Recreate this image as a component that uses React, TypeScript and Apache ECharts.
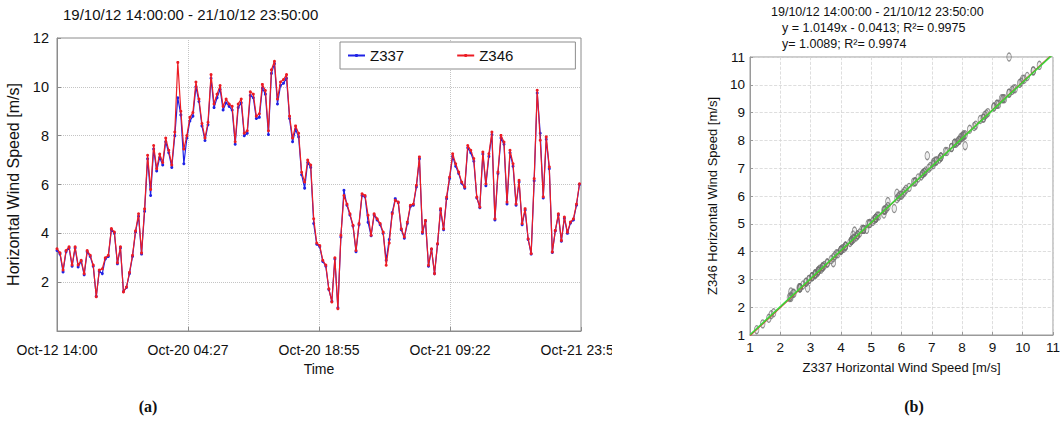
import React, { useEffect, useRef } from "react";
import * as echarts from "echarts";

const FONT = "'Liberation Sans', Arial, Helvetica, sans-serif";
const SERIF = "'Liberation Serif', 'DejaVu Serif', serif";

const periodTitle = "19/10/12 14:00:00 - 21/10/12 23:50:00";
const timeTickLabels = ["Oct-12 14:00", "Oct-20 04:27", "Oct-20 18:55", "Oct-21 09:22", "Oct-21 23:50"];
const seriesNames = ["Z337", "Z346"];

// sampling: one value every 20 minutes over the 57 h 50 min window
const sampleStepMin = 20;
const spanMin = 3470;

// horizontal wind speed [m/s] at Z346
const z346 = [
  3.37, 3.2, 2.5, 3.3, 3.45, 2.7, 3.45, 2.7, 2.9, 2.35,
  3.3, 3.1, 2.7, 1.4, 2.5, 2.55, 3.0, 3.1, 4.2, 4.05,
  2.8, 3.45, 1.6, 1.8, 2.4, 3.1, 4.1, 4.8, 3.2, 5.0,
  7.2, 5.8, 7.6, 6.65, 7.25, 6.9, 7.9, 7.4, 6.8, 8.15,
  11.0, 9.0, 7.45, 8.0, 8.75, 8.95, 10.2, 9.5, 8.5, 7.9,
  8.55, 10.5, 9.3, 9.7, 10.05, 9.2, 9.5, 9.3, 9.2, 7.75,
  9.3, 9.5, 8.1, 8.2, 9.8, 9.7, 8.8, 8.9, 10.1, 9.85,
  8.2, 10.7, 11.05, 9.5, 10.2, 10.3, 10.5, 8.8, 7.9, 8.4,
  8.1, 6.5, 6.1, 7.0, 6.8, 4.6, 3.6, 3.5,
  2.9, 2.7, 1.73, 1.19, 3.0, 0.91, 3.92, 5.55, 5.2, 4.8, 4.33, 3.3,
  4.4, 5.62, 5.55, 4.74, 3.92, 4.8, 4.6, 4.4, 4.05, 2.69,
  3.6, 4.8, 5.35, 5.28, 4.19, 3.85, 4.46, 5.15, 5.2, 5.97,
  7.13, 4.05, 4.53, 2.69, 3.37, 2.35, 3.58, 5.01, 4.19, 5.49,
  6.31, 7.26, 6.85, 6.51, 6.1, 5.9, 7.6, 7.4, 7.06, 5.49,
  5.08, 7.33, 6.03, 7.26, 8.15, 4.6, 6.51, 8.01, 7.74, 5.28,
  7.4, 6.85, 5.2, 6.17, 4.4, 5.01, 3.78, 3.17, 6.24, 9.86,
  7.81, 5.5, 7.95, 6.72, 3.24, 4.12, 4.8,
  3.71, 4.67, 4.05, 4.46, 4.6, 5.2, 6.03,
];

// horizontal wind speed [m/s] at Z337
const z337 = [
  3.3, 3.15, 2.42, 3.25, 3.4, 2.65, 3.4, 2.62, 2.85, 2.3,
  3.25, 3.05, 2.65, 1.42, 2.45, 2.35, 2.95, 3.05, 4.15, 4.0,
  2.75, 3.4, 1.62, 1.78, 2.35, 3.05, 4.05, 4.7, 3.15, 4.9,
  7.05, 5.55, 7.45, 6.55, 7.1, 6.8, 7.75, 7.3, 6.7, 8.0,
  9.55, 8.85, 6.85, 7.9, 8.6, 8.8, 10.0, 9.4, 8.4, 7.8,
  8.45, 10.35, 9.15, 9.55, 9.9, 9.05, 9.35, 9.2, 9.05, 7.65,
  9.15, 9.35, 8.0, 8.1, 9.65, 9.55, 8.7, 8.75, 9.95, 9.7,
  8.05, 10.55, 10.95, 9.3, 10.05, 10.15, 10.35, 8.7, 7.75, 8.25,
  7.95, 6.4, 5.85, 6.9, 6.7, 4.4, 3.55, 3.45,
  2.85, 2.65, 1.7, 1.22, 2.95, 0.95, 3.85, 5.76, 5.15, 4.75, 4.3, 3.25,
  4.35, 5.55, 5.5, 4.45, 3.9, 4.75, 4.55, 4.35, 4.0, 2.9,
  3.75, 4.85, 5.42, 5.25, 4.15, 3.8, 4.4, 5.1, 5.15, 5.9,
  7.05, 4.0, 4.5, 2.65, 3.35, 2.35, 3.55, 4.95, 4.15, 5.42,
  6.25, 7.15, 6.75, 6.45, 6.05, 5.85, 7.5, 7.3, 6.95, 5.45,
  5.05, 7.25, 5.95, 7.15, 8.05, 4.55, 6.45, 7.9, 7.65, 5.2,
  7.3, 6.75, 5.15, 6.1, 4.35, 4.95, 3.75, 3.15, 6.15, 9.75,
  8.1, 5.45, 7.85, 6.65, 3.22, 4.1, 4.75,
  3.68, 4.62, 4.0, 4.42, 4.55, 5.15, 6.0,
];

// regression of Z346 on Z337
const fitLinear = { slope: 1.0149, intercept: -0.0413, r2: 0.9975 };
const fitOrigin = { slope: 1.0089, r2: 0.9974 };
const scatterRange = [1, 11];

const BLUE = "#1f22e6";
const RED = "#ec1c24";
const AXIS_GREY = "#8c8c8c";
const TEXT = "#111111";

function timeSeriesOption(): echarts.EChartsOption {
  const toPoints = (vals: number[]) => vals.map((v, i) => [i * sampleStepMin, v]);
  const tickStep = spanMin / 4;
  return {
    animation: false,
    backgroundColor: "#ffffff",
    textStyle: { fontFamily: FONT },
    title: {
      text: periodTitle,
      left: 63,
      top: 7,
      padding: 0,
      textStyle: { fontSize: 15, fontWeight: "normal", color: TEXT, fontFamily: FONT },
    },
    legend: {
      data: seriesNames,
      left: 340,
      top: 42,
      padding: [6, 62, 6, 7],
      itemGap: 52,
      itemWidth: 17,
      itemHeight: 4,
      borderColor: AXIS_GREY,
      borderWidth: 1,
      backgroundColor: "#ffffff",
      textStyle: { fontSize: 15, color: TEXT, fontFamily: FONT },
    },
    grid: {
      left: 57,
      top: 38,
      width: 524,
      height: 293,
      show: true,
      borderColor: AXIS_GREY,
      borderWidth: 1,
      backgroundColor: "#ffffff",
      outerBoundsMode: "none",
    } as any,
    xAxis: {
      type: "value",
      min: 0,
      max: spanMin,
      interval: tickStep,
      name: "Time",
      nameLocation: "middle",
      nameGap: 30,
      nameTextStyle: { fontSize: 14, color: TEXT, fontFamily: FONT },
      axisLine: { show: true, lineStyle: { color: AXIS_GREY } },
      axisTick: { show: true, inside: true, length: 4, lineStyle: { color: AXIS_GREY } },
      axisLabel: {
        fontSize: 14,
        color: TEXT,
        margin: 12,
        fontFamily: FONT,
        hideOverlap: false,
        formatter: (v: number) => timeTickLabels[Math.round(v / tickStep)] ?? "",
      },
      splitLine: { show: true, lineStyle: { type: "dotted", color: "#c4c4c4" } },
    },
    yAxis: {
      type: "value",
      min: 0,
      max: 12,
      interval: 2,
      name: "Horizontal Wind Speed [m/s]",
      nameLocation: "middle",
      nameGap: 32,
      nameTextStyle: { fontSize: 16, color: TEXT, fontFamily: FONT },
      axisLine: { show: true, lineStyle: { color: AXIS_GREY } },
      axisTick: { show: true, inside: true, length: 4, lineStyle: { color: AXIS_GREY } },
      axisLabel: { showMinLabel: false, fontSize: 14.5, color: TEXT, margin: 8, fontFamily: FONT },
      splitLine: { show: true, lineStyle: { type: "dotted", color: "#c4c4c4" } },
    },
    graphic: [
      {
        type: "text",
        x: 148,
        y: 406,
        style: {
          text: "(a)",
          font: `bold 16px ${SERIF}`,
          fill: TEXT,
          textAlign: "center",
          textVerticalAlign: "middle",
        },
      },
    ],
    series: [
      {
        name: seriesNames[0],
        type: "line",
        data: toPoints(z337),
        symbol: "circle",
        symbolSize: 3,
        showSymbol: true,
        lineStyle: { color: BLUE, width: 1.2 },
        itemStyle: { color: BLUE },
        z: 2,
      },
      {
        name: seriesNames[1],
        type: "line",
        data: toPoints(z346),
        symbol: "circle",
        symbolSize: 3,
        showSymbol: true,
        lineStyle: { color: RED, width: 1.2 },
        itemStyle: { color: RED },
        z: 3,
      },
    ],
  };
}

function scatterOption(): echarts.EChartsOption {
  const [lo, hi] = scatterRange;
  const pairs = z337.map((x, i) => [x, z346[i]]);
  const linearLine = [lo, hi].map((x) => [x, fitLinear.slope * x + fitLinear.intercept]);
  const originLine = [lo, hi].map((x) => [x, fitOrigin.slope * x]);
  const axisCommon = {
    type: "value" as const,
    min: lo,
    max: hi,
    interval: 1,
    nameLocation: "middle" as const,
    nameTextStyle: { fontSize: 13, color: TEXT, fontFamily: FONT },
    axisLine: { show: true, lineStyle: { color: "#9a9a9a" } },
    axisTick: { show: true, inside: true, length: 3, lineStyle: { color: "#9a9a9a" } },
    splitLine: { show: true, lineStyle: { type: "dashed" as const, color: "#d6d6d6", width: 0.8 } },
  };
  const titleFont = `12.5px ${FONT}`;
  return {
    animation: false,
    backgroundColor: "#ffffff",
    textStyle: { fontFamily: FONT },
    graphic: [
      {
        type: "text",
        x: 159,
        y: 12,
        style: { text: periodTitle, font: titleFont, fill: TEXT, textAlign: "left", textVerticalAlign: "middle" },
      },
      {
        type: "text",
        x: 170,
        y: 28,
        style: {
          text: `y = ${fitLinear.slope.toFixed(4)}x - ${Math.abs(fitLinear.intercept).toFixed(4)}; R²= ${fitLinear.r2.toFixed(4)}`,
          font: titleFont,
          fill: TEXT,
          textAlign: "left",
          textVerticalAlign: "middle",
        },
      },
      {
        type: "text",
        x: 170,
        y: 44,
        style: {
          text: `y= ${fitOrigin.slope.toFixed(4)}; R²= ${fitOrigin.r2.toFixed(4)}`,
          font: titleFont,
          fill: TEXT,
          textAlign: "left",
          textVerticalAlign: "middle",
        },
      },
      {
        type: "text",
        x: 302,
        y: 406,
        style: {
          text: "(b)",
          font: `bold 16px ${SERIF}`,
          fill: TEXT,
          textAlign: "center",
          textVerticalAlign: "middle",
        },
      },
    ],
    grid: {
      left: 138,
      top: 57,
      width: 303,
      height: 278,
      show: true,
      borderColor: "#9a9a9a",
      borderWidth: 1,
      backgroundColor: "#ffffff",
      outerBoundsMode: "none",
    } as any,
    xAxis: {
      ...axisCommon,
      name: "Z337 Horizontal Wind Speed [m/s]",
      nameGap: 26,
      axisLabel: { fontSize: 13.5, color: TEXT, margin: 5, fontFamily: FONT },
    },
    yAxis: {
      ...axisCommon,
      name: "Z346 Horizontal Wind Speed [m/s]",
      nameGap: 13,
      axisLabel: { fontSize: 13.5, color: TEXT, margin: 5, fontFamily: FONT },
    },
    series: [
      {
        type: "scatter",
        data: pairs,
        symbol: "circle",
        symbolSize: [4.5, 8],
        itemStyle: { color: "rgba(120,120,120,0.15)", borderColor: "#707070", borderWidth: 1 },
        z: 2,
      },
      {
        type: "line",
        data: linearLine,
        symbol: "none",
        lineStyle: { color: "#d83a2c", width: 1.3 },
        z: 3,
      },
      {
        type: "line",
        data: originLine,
        symbol: "none",
        lineStyle: { color: "#3ad63a", width: 1.6 },
        z: 4,
      },
    ],
  };
}

export default function App() {
  const leftRef = useRef<HTMLDivElement>(null);
  const rightRef = useRef<HTMLDivElement>(null);

  useEffect(() => {
    document.body.style.margin = "0";
    const left = echarts.init(leftRef.current as HTMLDivElement, undefined, { renderer: "svg" });
    const right = echarts.init(rightRef.current as HTMLDivElement, undefined, { renderer: "svg" });
    left.setOption(timeSeriesOption());
    right.setOption(scatterOption());
    return () => {
      left.dispose();
      right.dispose();
    };
  }, []);

  return (
    <div style={{ position: "relative", width: 1064, height: 421, background: "#fff", overflow: "hidden" }}>
      <div ref={leftRef} style={{ position: "absolute", left: 0, top: 0, width: 612, height: 421 }} />
      <div ref={rightRef} style={{ position: "absolute", left: 612, top: 0, width: 452, height: 421 }} />
    </div>
  );
}
